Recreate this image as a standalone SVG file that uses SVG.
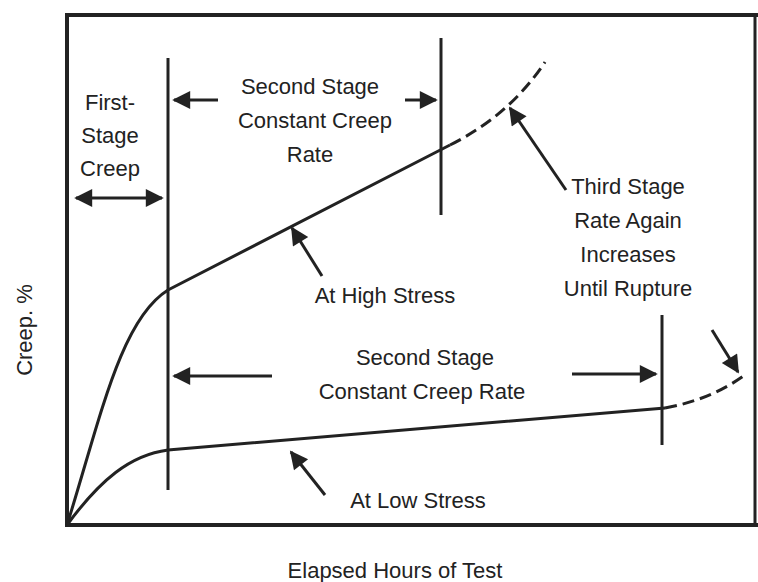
<svg xmlns="http://www.w3.org/2000/svg" width="758" height="582" viewBox="0 0 758 582">
<defs>
<marker id="a" viewBox="0 0 10 10" refX="9" refY="5" markerWidth="8" markerHeight="6" orient="auto-start-reverse"><path d="M0,0L10,5L0,10z" fill="#222"/></marker>
<style>
text{font-family:"Liberation Sans",Arial,sans-serif;font-size:22px;fill:#222;text-anchor:middle}
.l{stroke:#222;stroke-width:3;fill:none}
.d{stroke:#222;stroke-width:3;fill:none;stroke-dasharray:12 6}
.ar{stroke:#222;stroke-width:3;fill:none;marker-end:url(#a)}
.ar2{stroke:#222;stroke-width:3;fill:none;marker-end:url(#a);marker-start:url(#a)}
</style>
</defs>
<rect width="758" height="582" fill="#fff"/>
<path class="l" d="M758,15H67V525H758" style="stroke-width:4"/>
<line x1="755" y1="15" x2="755" y2="525" stroke="#222" stroke-width="3"/>
<g id="verticals">
<line class="l" x1="168" y1="58" x2="168" y2="490"/>
<line class="l" x1="441" y1="38" x2="441" y2="215"/>
<line class="l" x1="662" y1="315" x2="662" y2="445"/>
</g>
<g id="curves">
<path class="l" d="M67,525C100,420 120,320 168,290L450,145"/>
<path class="d" d="M450,145Q510,115 545,62"/>
<path class="l" d="M67,525C100,480 130,455 168,450L665,408"/>
<path class="d" d="M665,408Q710,400 745,375"/>
</g>
<g id="connectors">
<line class="ar2" x1="76" y1="198" x2="162" y2="198"/>
<line class="ar" x1="218" y1="100" x2="174" y2="100"/>
<line class="ar" x1="405" y1="100" x2="436" y2="100"/>
<line class="ar" x1="272" y1="376" x2="174" y2="376"/>
<line class="ar" x1="572" y1="374" x2="656" y2="374"/>
<line class="ar" x1="322" y1="276" x2="292" y2="228"/>
<line class="ar" x1="325" y1="495" x2="291" y2="452"/>
<line class="ar" x1="566" y1="190" x2="510" y2="108"/>
<line class="ar" x1="712" y1="330" x2="738" y2="372"/>
</g>
<g id="labels">
<text x="110" y="110">First-</text><text x="110" y="143">Stage</text><text x="110" y="176">Creep</text>
<text x="310" y="94">Second Stage</text><text x="315" y="128">Constant Creep</text><text x="310" y="162">Rate</text>
<text x="628" y="194">Third Stage</text><text x="628" y="228">Rate Again</text><text x="628" y="262">Increases</text><text x="628" y="296">Until Rupture</text>
<text x="385" y="303">At High Stress</text>
<text x="425" y="365">Second Stage</text><text x="422" y="399">Constant Creep Rate</text>
<text x="418" y="508">At Low Stress</text>
<text transform="translate(32,330) rotate(-90)">Creep. %</text>
<text x="395" y="578">Elapsed Hours of Test</text>
</g>
</svg>
